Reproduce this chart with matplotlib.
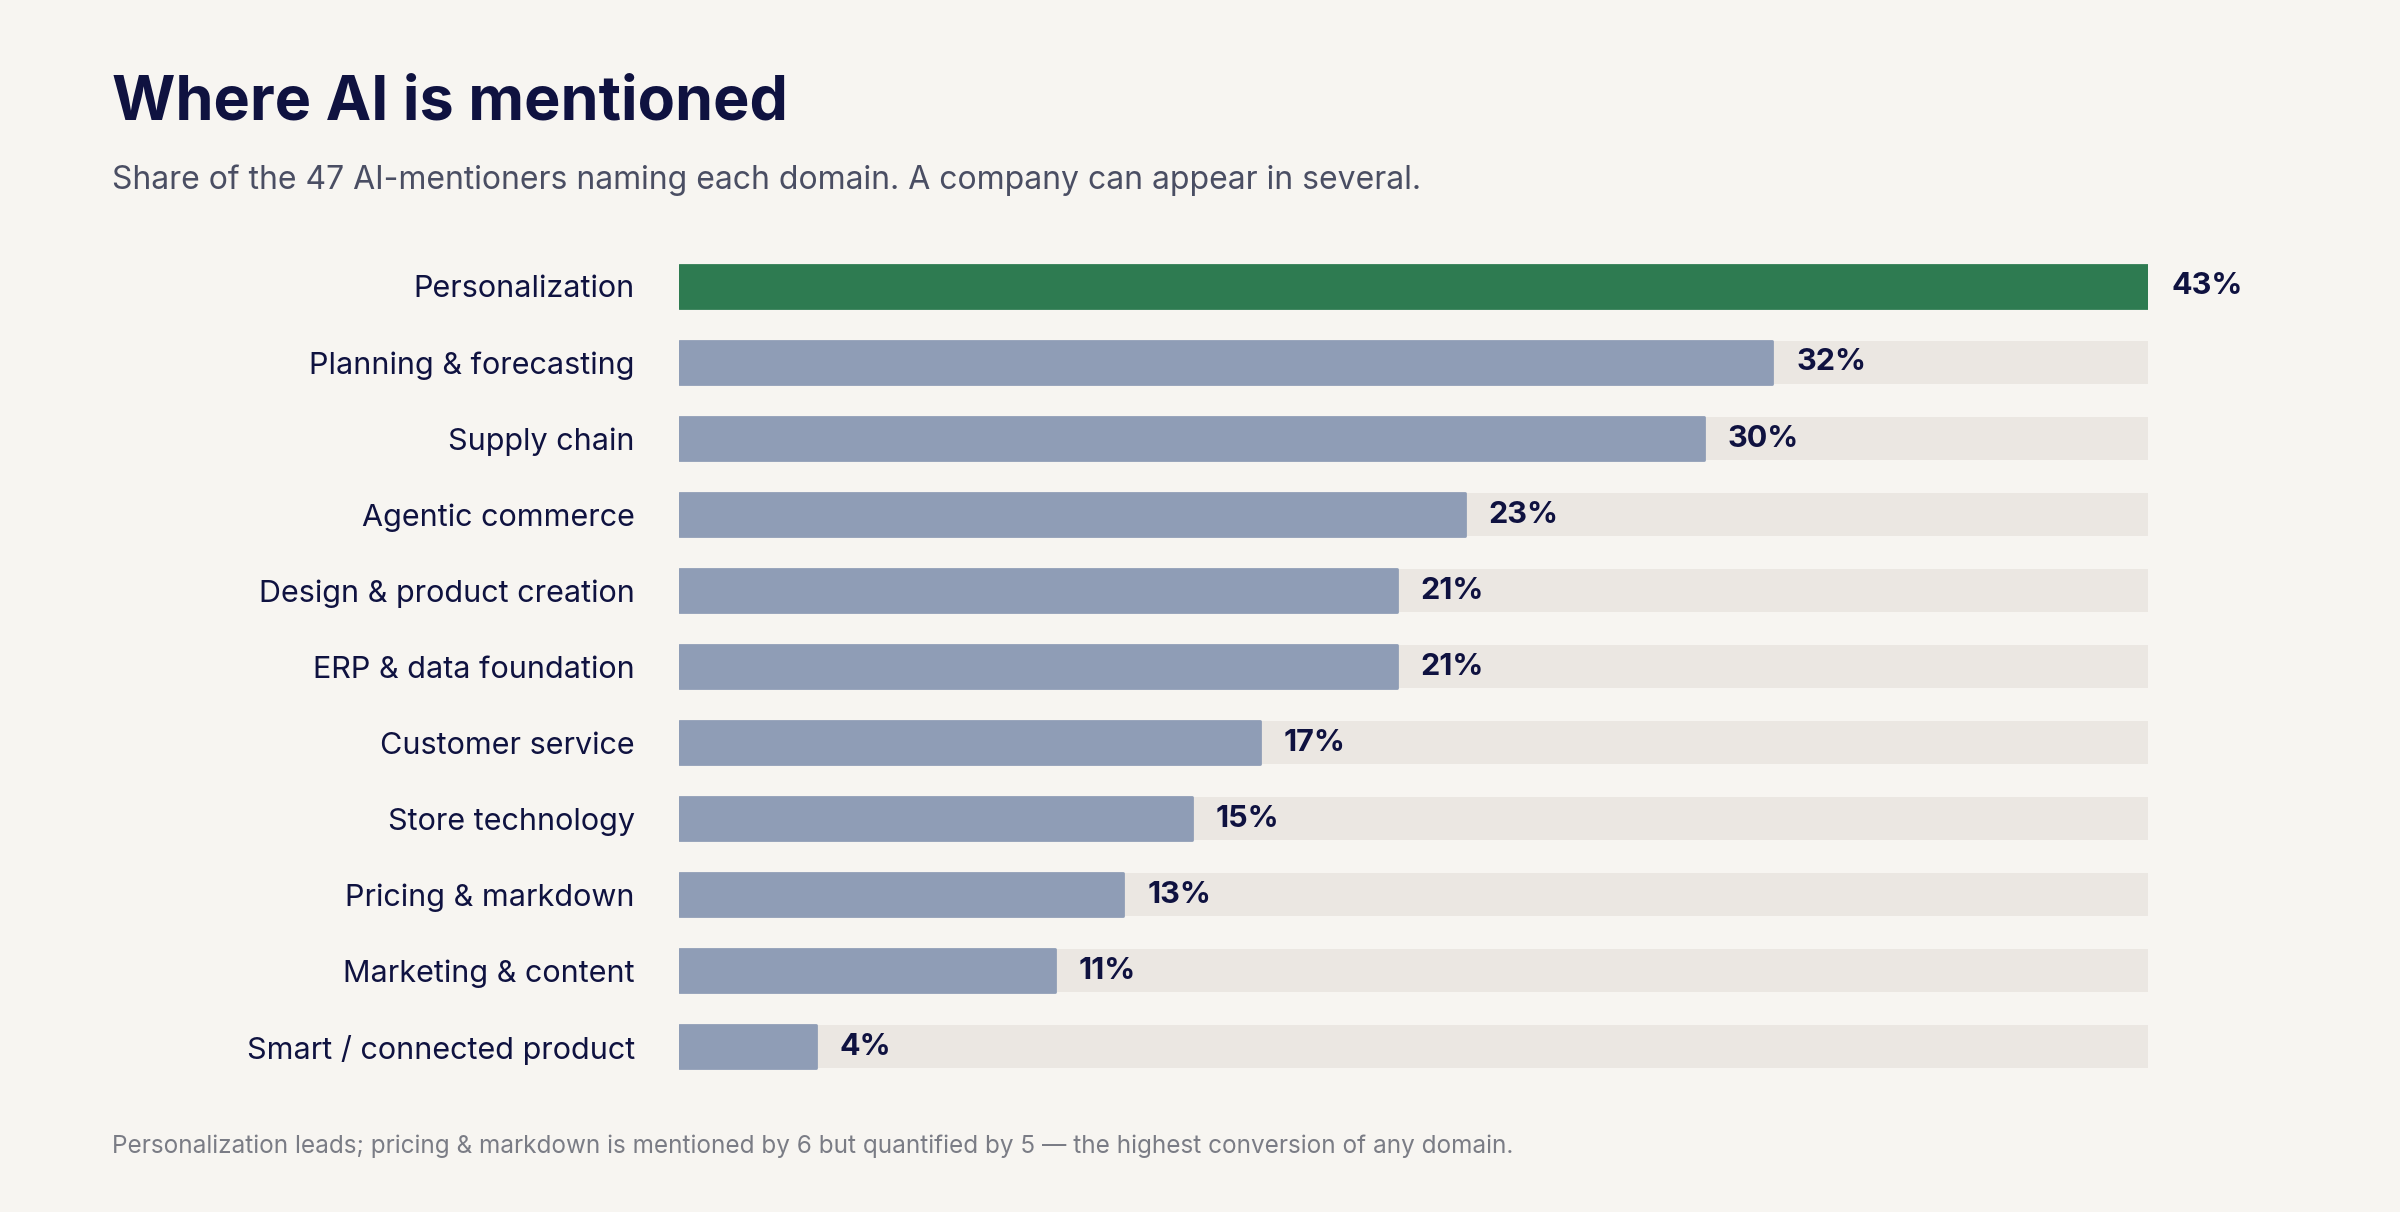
import matplotlib
matplotlib.use("Agg")
import matplotlib.pyplot as plt

categories = ["Personalization", "Planning & forecasting", "Supply chain", "Agentic commerce",
              "Design & product creation", "ERP & data foundation", "Customer service",
              "Store technology", "Pricing & markdown", "Marketing & content",
              "Smart / connected product"]
shares = [43, 32, 30, 23, 21, 21, 17, 15, 13, 11, 4]
track_max = 43

BG = "#f7f5f1"
TRACK = "#ebe7e2"
BAR = "#8f9db6"
HILITE = "#2e7b51"
INK = "#0f1240"

plt.rcParams["font.family"] = ["Inter", "DejaVu Sans"]

fig = plt.figure(figsize=(24, 12.12), dpi=100, facecolor=BG)
ax = fig.add_axes([0.283, 0.105, 0.612, 0.69])
ax.set_facecolor(BG)

y = list(range(len(categories)))
ax.barh(y, [track_max] * len(y), height=0.57, color=TRACK, linewidth=0)
colors = [HILITE] + [BAR] * (len(y) - 1)
ax.barh(y, shares, height=0.57, color=colors, edgecolor=colors, linewidth=2,
        joinstyle="round")
for yi, v in zip(y, shares):
    ax.text(v + 0.7, yi, f"{v}%", va="center", ha="left", fontsize=22,
            fontweight="bold", color=INK)

ax.set_xlim(0, track_max)
ax.set_ylim(len(y) - 0.5, -0.5)
ax.set_yticks(y)
ax.set_yticklabels(categories, fontsize=22, color=INK)
ax.tick_params(axis="y", length=0, pad=32)
ax.set_xticks([])
for s in ax.spines.values():
    s.set_visible(False)

fig.text(0.0466, 0.915, "Where AI is mentioned", fontsize=44, fontweight="bold",
         color=INK, va="center")
fig.text(0.0466, 0.851, "Share of the 47 AI-mentioners naming each domain. "
         "A company can appear in several.", fontsize=23, color="#4a4e63", va="center")
fig.text(0.0466, 0.054, "Personalization leads; pricing & markdown is mentioned by 6 "
         "but quantified by 5 \u2014 the highest conversion of any domain.",
         fontsize=17.5, color="#7a7c85", va="center")

fig.savefig("out.png", facecolor=BG)
